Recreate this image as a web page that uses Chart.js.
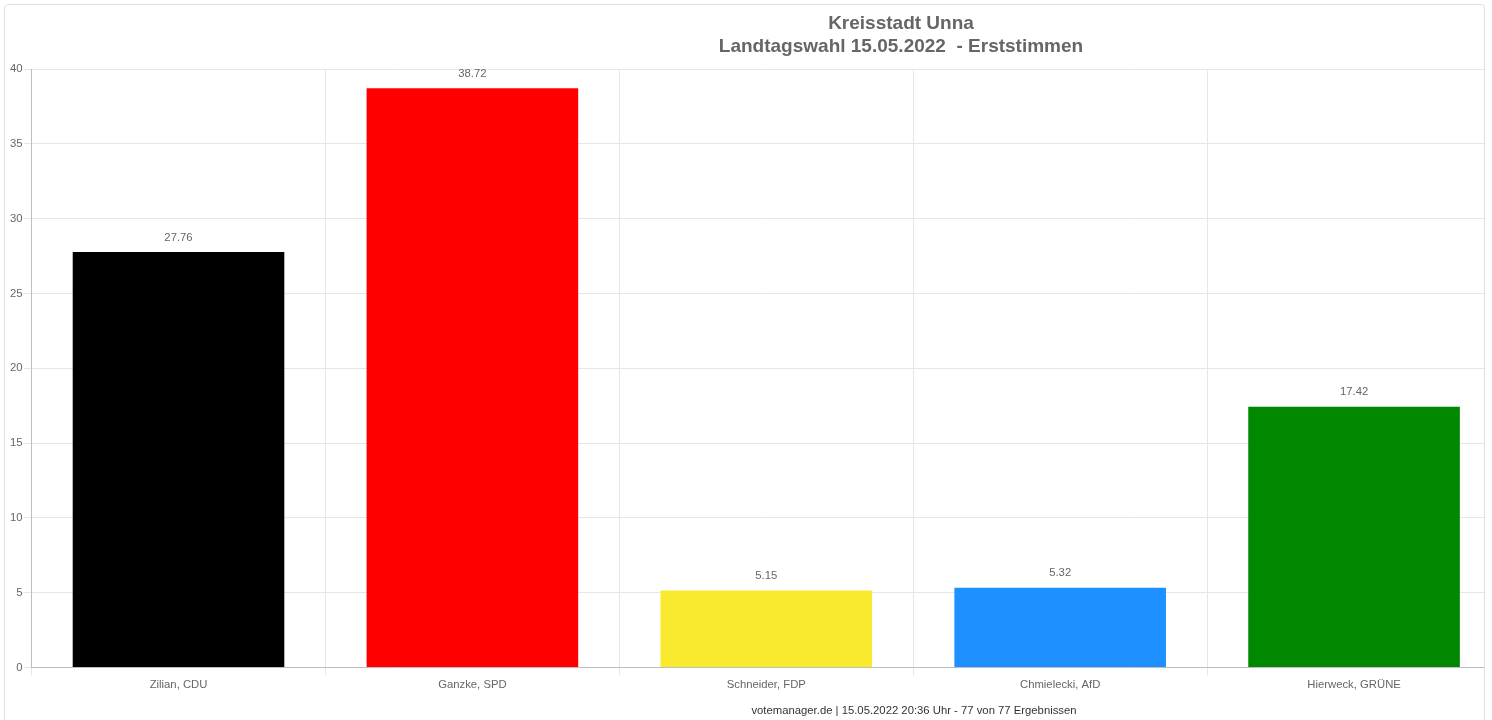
<!DOCTYPE html>
<html>
<head>
<meta charset="utf-8">
<script src="https://cdn.jsdelivr.net/npm/chart.js@4/dist/chart.umd.min.js"></script>
<style>
  html, body { margin: 0; padding: 0; background: #fff; overflow: hidden; }
  #clip { position: absolute; left: 0; top: 0; width: 1484px; height: 720px; overflow: hidden; }
  #wrap { position: absolute; left: 0; top: 0; width: 1510px; height: 720px; }
  #frame {
    position: absolute; left: 4px; top: 4px; width: 1479px; height: 740px;
    border: 1px solid #dde1e6; border-radius: 4px; pointer-events: none;
  }
</style>
</head>
<body>
<div id="clip"><div id="wrap"><canvas id="wahl"></canvas></div></div>
<div id="frame"></div>
<script>
var kandidaten = ["Zilian, CDU", "Ganzke, SPD", "Schneider, FDP", "Chmielecki, AfD", "Hierweck, GRÜNE"];
var prozente = [27.76, 38.72, 5.15, 5.32, 17.42];
var farben = ["#000000", "#ff0000", "#f9e92f", "#1e90ff", "#008800"];
var titelZeilen = ["Kreisstadt Unna", "Landtagswahl 15.05.2022  - Erststimmen"];
var fussText = "votemanager.de | 15.05.2022 20:36 Uhr - 77 von 77 Ergebnissen";

var schrift = "'Liberation Sans', Arial, sans-serif";
Chart.defaults.font.family = schrift;
Chart.defaults.color = "#666";

// Titel, Werte über den Balken und Fußzeile
var beschriftung = {
   id: "beschriftung",
   afterDatasetsDraw: function (chart) {
      var ctx = chart.ctx;
      ctx.save();
      ctx.fillStyle = "#666";
      ctx.font = "11.3px " + schrift;
      ctx.textAlign = "center";
      ctx.textBaseline = "bottom";
      chart.getDatasetMeta(0).data.forEach(function (bar, i) {
         ctx.fillText(prozente[i].toFixed(2), bar.x, bar.y - 9);
      });

      ctx.font = "bold 19px " + schrift;
      ctx.textBaseline = "middle";
      ctx.fillText(titelZeilen[0], 901, 24);
      ctx.fillText(titelZeilen[1], 901, 47);

      ctx.fillStyle = "#333";
      ctx.font = "11.3px " + schrift;
      ctx.fillText(fussText, 914, 711);
      ctx.restore();
   }
};

new Chart("wahl", {
   type: "bar",
   data: {
      labels: kandidaten,
      datasets: [{
         data: prozente,
         backgroundColor: farben,
         borderWidth: 0
      }]
   },
   plugins: [beschriftung],
   options: {
      responsive: true,
      maintainAspectRatio: false,
      animation: false,
      layout: { padding: { left: 9, right: 9, top: 69, bottom: 25 } },
      plugins: {
         legend: { display: false },
         tooltip: { enabled: false }
      },
      scales: {
         x: {
            grid: { color: "#e6e6e6" },
            border: { color: "#bdbdbd" },
            ticks: { font: { size: 11.3 }, color: "#666" }
         },
         y: {
            min: 0,
            max: 40,
            ticks: { stepSize: 5, padding: 1, font: { size: 11.3 }, color: "#666" },
            grid: { color: "#e6e6e6" },
            border: { color: "#bdbdbd" }
         }
      }
   }
});
</script>
</body>
</html>
